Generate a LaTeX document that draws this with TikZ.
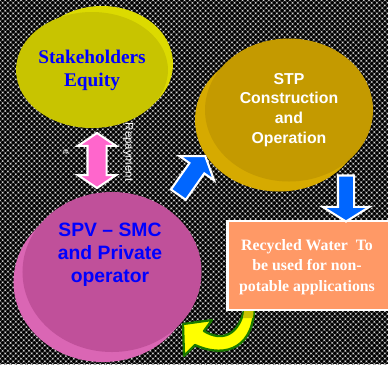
\documentclass[tikz,border=0pt]{standalone}
\usepackage{fontspec}
\setmainfont{Liberation Serif}
\setsansfont{Liberation Sans}
\usetikzlibrary{shapes.geometric,shapes.arrows,patterns,calc}

\definecolor{eqfront}{HTML}{C8C400}
\definecolor{eqside}{HTML}{DCDA00}
\definecolor{stpfront}{HTML}{C49A00}
\definecolor{stpside}{HTML}{D6AA00}
\definecolor{spvfront}{HTML}{C0509A}
\definecolor{spvside}{HTML}{DA66B4}
\definecolor{textblue}{HTML}{0000FF}
\definecolor{arrowblue}{HTML}{0066FF}
\definecolor{arrowpink}{HTML}{FF66CC}
\definecolor{boxorange}{HTML}{FF9966}
\definecolor{curvegreen}{HTML}{1A7A00}
\definecolor{curveyellow}{HTML}{FFFF00}

\begin{document}
\begin{tikzpicture}[x=0.2mm,y=-0.2mm,
	disc/.style={ellipse,inner sep=0pt,align=center},
	blockarrow/.style={fill=arrowblue,draw=white,line width=1.2pt,minimum width=0pt}]
	\clip (0,0) rectangle (388,364);
	\fill[black] (0,0) rectangle (388,364);
	\fill[pattern=crosshatch,pattern color=black!72] (0,0) rectangle (388,364);
	\fill[pattern=crosshatch dots,pattern color=white!85!black] (0,0) rectangle (388,364);

	% discs: side first, face on top
	\node[disc,fill=eqside,minimum width=28.4mm,minimum height=23.2mm] (equityback) at (102,64) {};
	\node[disc,fill=eqfront,minimum width=28.4mm,minimum height=23.2mm,text=textblue,
		font=\rmfamily\bfseries\fontsize{11}{13}\selectfont] (equity) at (92,70) {Stakeholders\\Equity};

	\node[disc,fill=stpside,minimum width=33.6mm,minimum height=28.6mm] (stpback) at (279,120) {};
	\node[disc,fill=stpfront,minimum width=33.6mm,minimum height=28.6mm,text=white,
		font=\sffamily\bfseries\fontsize{9}{11.3}\selectfont] (stp) at (289,110) {STP\\Construction\\and\\Operation};

	\node[disc,fill=spvside,minimum width=35.8mm,minimum height=32mm] (spvback) at (103,282) {};
	\node[disc,fill=spvfront,minimum width=35.8mm,minimum height=32mm] (spv) at (112,272) {};
	\node[align=center,text=textblue,font=\sffamily\bfseries\fontsize{11}{13}\selectfont]
		(spvtext) at ($(spv.center)+(-2,-17)$) {SPV -- SMC\\and Private\\operator};

	% curved return arrow
	\draw[fill=curveyellow,draw=curvegreen,line width=1.3pt,line join=round]
		(183,324) -- (212,320) -- (204,331) .. controls (222,342) and (240,336) .. (245,305)
		-- (254,305) .. controls (255,345) and (228,360) .. (195,345) -- (184,356) -- cycle;
	\begin{scope}
		\clip (240,300) rectangle (260,318);
		\fill[eqfront] (245,305) -- (254,305) -- (253,318) -- (243,318) -- cycle;
	\end{scope}

	\node[rectangle,fill=boxorange,draw=white,line width=1.2pt,minimum width=33mm,minimum height=17.8mm] (water) at (310,265.5) {};
	\node[align=center,text=white,font=\rmfamily\bfseries\fontsize{9}{11.6}\selectfont]
		(watertext) at (307,267) {Recycled Water~ To\\be used for non-\\potable applications};

	% block arrows
	\node[double arrow,fill=arrowpink,draw=white,line width=1.2pt,rotate=90,inner sep=1.7mm,
		minimum width=0pt,minimum height=11mm,double arrow head extend=1.9mm,double arrow tip angle=112] (repay) at (97,160.5) {};
	\node[blockarrow,single arrow,rotate=55,inner sep=1.6mm,minimum height=9.4mm,
		single arrow head extend=2.4mm,single arrow tip angle=110] (invest) at (190,178) {};
	\node[blockarrow,single arrow,rotate=-90,inner sep=1.4mm,minimum height=9.2mm,
		single arrow head extend=3.1mm,single arrow tip angle=116] (outflow) at (346,196) {};

	\node[rotate=-90,text=white,font=\sffamily\fontsize{6.5}{7}\selectfont] (repaytext) at (128,152) {Repayment};
	\node[rotate=-90,text=white,font=\sffamily\fontsize{5}{6}\selectfont] (mark) at (66,152) {e};
\end{tikzpicture}
\end{document}
